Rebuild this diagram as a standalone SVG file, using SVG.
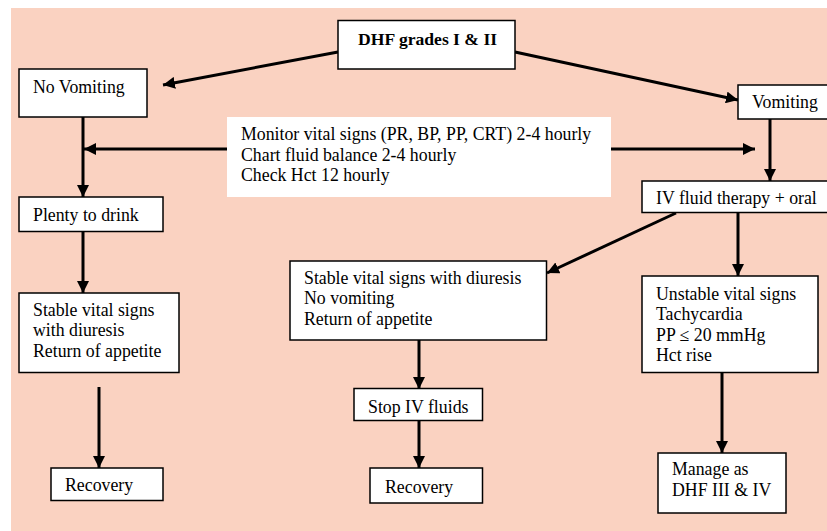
<svg xmlns="http://www.w3.org/2000/svg" width="827" height="531" viewBox="0 0 827 531">
  <defs>
    <marker id="arrow" markerUnits="userSpaceOnUse" markerWidth="12" markerHeight="12" viewBox="0 0 12 12" refX="12" refY="6" orient="auto">
      <path d="M0,0 L12,6 L0,12 Z" fill="#000"/>
    </marker>
    <style>
      .box { fill: #fff; stroke: #000; stroke-width: 1.5; }
      .plain { fill: #fff; stroke: none; }
      text { font-family: "Liberation Serif", "Times New Roman", serif; font-size: 17.8px; fill: #000; }
      .bold { font-weight: bold; font-size: 17.6px; }
      .link { stroke: #000; stroke-width: 3; fill: none; marker-end: url(#arrow); }
    </style>
  </defs>

  <rect x="0" y="0" width="827" height="531" fill="#fff"/>
  <rect x="11" y="8" width="816" height="523" fill="#FAD2C1"/>

  <g id="connectors">
    <line class="link" x1="338" y1="52" x2="163" y2="85"/>
    <line class="link" x1="515" y1="52" x2="738" y2="100"/>
    <line class="link" x1="83" y1="117" x2="83" y2="197"/>
    <line class="link" x1="227" y1="149" x2="84" y2="149"/>
    <line class="link" x1="610" y1="149" x2="755" y2="149"/>
    <line class="link" x1="770" y1="116" x2="770" y2="181"/>
    <line class="link" x1="83" y1="231" x2="83" y2="293"/>
    <line class="link" x1="99" y1="387" x2="99" y2="468"/>
    <line class="link" x1="676" y1="213" x2="547" y2="273"/>
    <line class="link" x1="738" y1="213" x2="738" y2="276"/>
    <line class="link" x1="419" y1="340" x2="419" y2="389"/>
    <line class="link" x1="419" y1="421" x2="419" y2="468"/>
    <line class="link" x1="722" y1="373" x2="722" y2="453"/>
  </g>

  <g id="dhf">
    <rect class="box" x="338" y="20.5" width="177" height="48.5"/>
    <text class="bold" x="358" y="45">DHF grades I &amp; II</text>
  </g>

  <g id="no-vomiting">
    <rect class="box" x="19" y="69" width="128" height="48"/>
    <text x="33" y="93">No Vomiting</text>
  </g>

  <g id="monitor">
    <rect class="plain" x="227" y="117" width="384" height="80"/>
    <text x="241" y="140">Monitor vital signs (PR, BP, PP, CRT) 2-4 hourly</text>
    <text x="241" y="160.5">Chart fluid balance 2-4 hourly</text>
    <text x="241" y="181">Check Hct 12 hourly</text>
  </g>

  <g id="vomiting">
    <rect class="box" x="738" y="85" width="95" height="34"/>
    <text x="752" y="108">Vomiting</text>
  </g>

  <g id="iv-fluid">
    <rect class="box" x="642" y="181" width="191" height="31.5"/>
    <text x="656" y="204">IV fluid therapy + oral</text>
  </g>

  <g id="plenty">
    <rect class="box" x="19" y="197" width="144" height="34.5"/>
    <text x="33" y="221">Plenty to drink</text>
  </g>

  <g id="stable-left">
    <rect class="box" x="19" y="293" width="160" height="79.5"/>
    <text x="33" y="316">Stable vital signs</text>
    <text x="33" y="336">with diuresis</text>
    <text x="33" y="357">Return of appetite</text>
  </g>

  <g id="recovery-left">
    <rect class="box" x="51" y="468" width="112" height="32.5"/>
    <text x="65" y="491">Recovery</text>
  </g>

  <g id="stable-mid">
    <rect class="box" x="290" y="261" width="256.5" height="79"/>
    <text x="304" y="284">Stable vital signs with diuresis</text>
    <text x="304" y="304">No vomiting</text>
    <text x="304" y="325">Return of appetite</text>
  </g>

  <g id="stop-iv">
    <rect class="box" x="354" y="388.5" width="128.5" height="32"/>
    <text x="368" y="413">Stop IV fluids</text>
  </g>

  <g id="recovery-mid">
    <rect class="box" x="370" y="468" width="112.5" height="35"/>
    <text x="385" y="493">Recovery</text>
  </g>

  <g id="unstable">
    <rect class="box" x="642" y="276" width="176" height="96.5"/>
    <text x="656" y="300">Unstable vital signs</text>
    <text x="656" y="320">Tachycardia</text>
    <text x="656" y="341">PP ≤ 20 mmHg</text>
    <text x="656" y="361">Hct rise</text>
  </g>

  <g id="manage">
    <rect class="box" x="658" y="453" width="128" height="60"/>
    <text x="672" y="475">Manage as</text>
    <text x="672" y="496">DHF III &amp; IV</text>
  </g>
</svg>
